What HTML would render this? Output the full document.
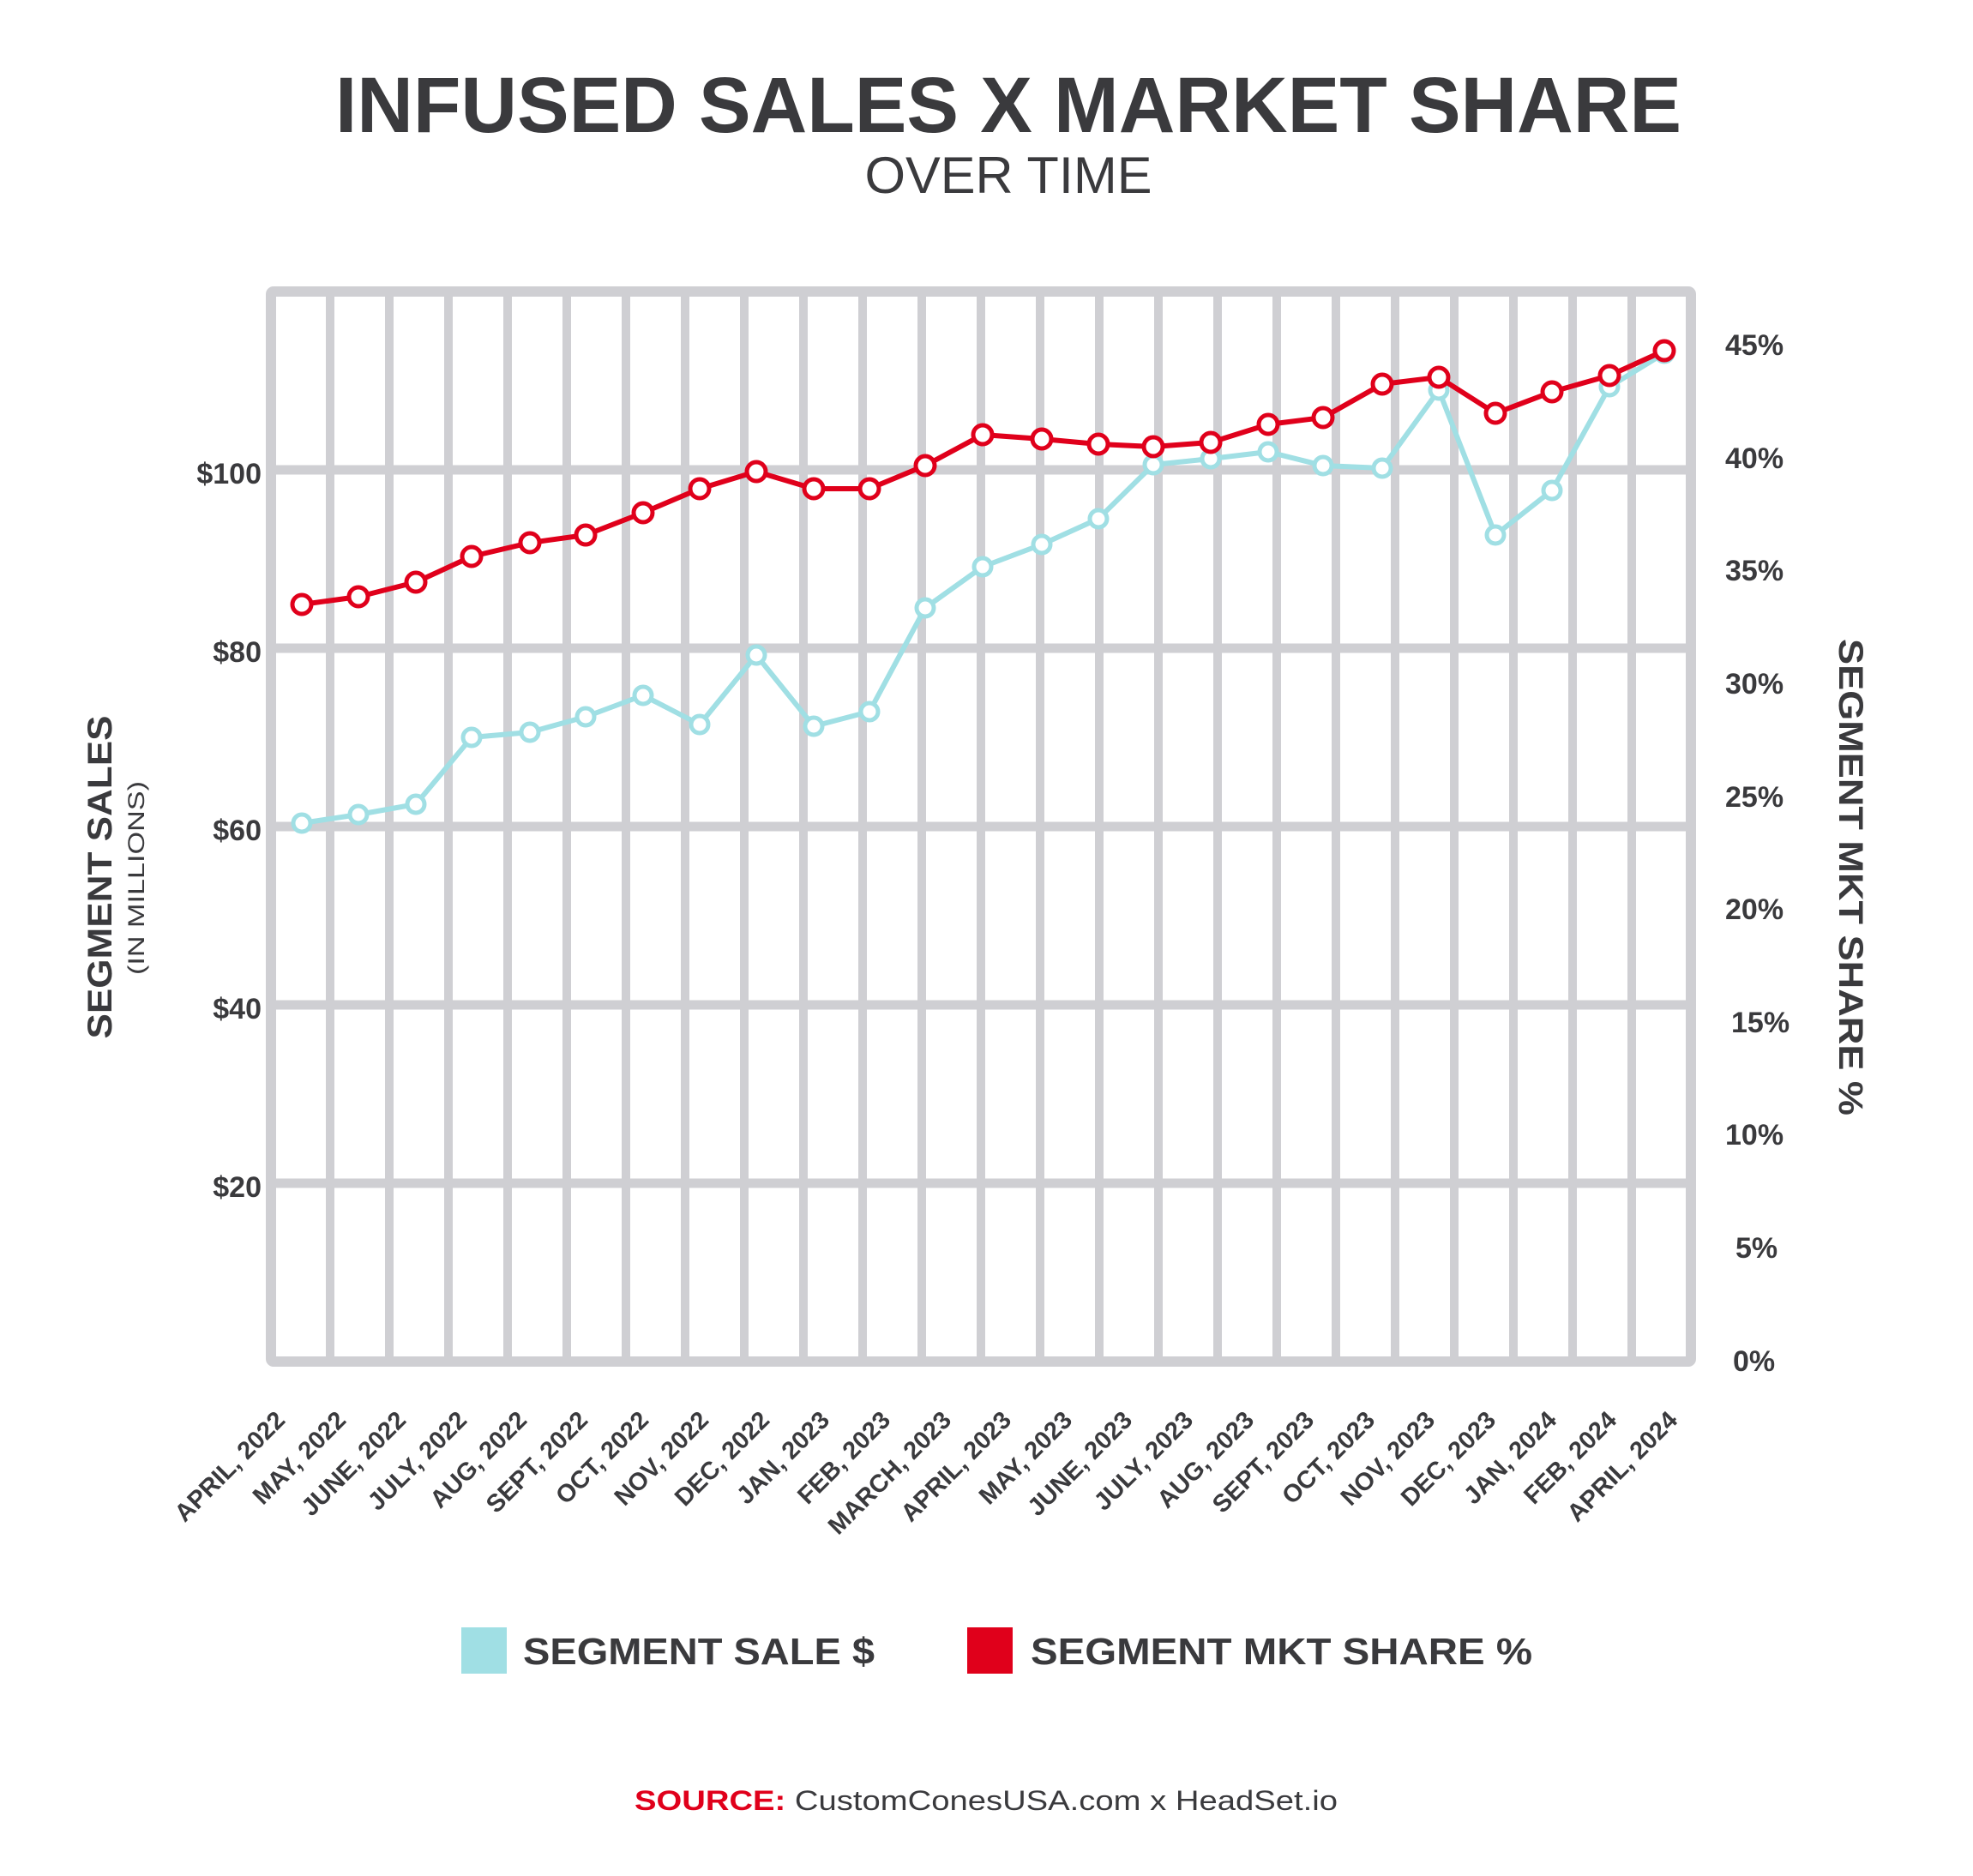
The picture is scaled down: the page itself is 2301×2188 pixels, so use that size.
<!DOCTYPE html>
<html><head><meta charset="utf-8"><style>
html,body{margin:0;padding:0;background:#fff;}
svg{display:block;}
text{font-family:"Liberation Sans",sans-serif;font-weight:bold;fill:#3a3a3d;}
</style></head><body>
<svg width="2301" height="2188" viewBox="0 0 2301 2188" xmlns="http://www.w3.org/2000/svg">
<text x="1176" y="154" font-size="92" text-anchor="middle" textLength="1570" lengthAdjust="spacingAndGlyphs">INFUSED SALES X MARKET SHARE</text>
<text x="1176" y="225" font-size="60" text-anchor="middle" style="font-weight:normal" textLength="335" lengthAdjust="spacingAndGlyphs">OVER TIME</text>

<g stroke="#cfcfd3" fill="none">
<g stroke-width="11">
<line x1="316" y1="548" x2="1972" y2="548"/>
<line x1="316" y1="756" x2="1972" y2="756"/>
<line x1="316" y1="964" x2="1972" y2="964"/>
<line x1="316" y1="1172" x2="1972" y2="1172"/>
<line x1="316" y1="1380" x2="1972" y2="1380"/>
</g>
<rect x="316" y="340" width="1656" height="1248" stroke-width="12" rx="3"/>
</g>
<g stroke="#cfcfd3" stroke-width="10">
<line x1="385" y1="340" x2="385" y2="1588"/><line x1="454" y1="340" x2="454" y2="1588"/><line x1="523" y1="340" x2="523" y2="1588"/><line x1="592" y1="340" x2="592" y2="1588"/><line x1="661" y1="340" x2="661" y2="1588"/><line x1="730" y1="340" x2="730" y2="1588"/><line x1="799" y1="340" x2="799" y2="1588"/><line x1="868" y1="340" x2="868" y2="1588"/><line x1="937" y1="340" x2="937" y2="1588"/><line x1="1006" y1="340" x2="1006" y2="1588"/><line x1="1075" y1="340" x2="1075" y2="1588"/><line x1="1144" y1="340" x2="1144" y2="1588"/><line x1="1213" y1="340" x2="1213" y2="1588"/><line x1="1282" y1="340" x2="1282" y2="1588"/><line x1="1351" y1="340" x2="1351" y2="1588"/><line x1="1420" y1="340" x2="1420" y2="1588"/><line x1="1489" y1="340" x2="1489" y2="1588"/><line x1="1558" y1="340" x2="1558" y2="1588"/><line x1="1627" y1="340" x2="1627" y2="1588"/><line x1="1696" y1="340" x2="1696" y2="1588"/><line x1="1765" y1="340" x2="1765" y2="1588"/><line x1="1834" y1="340" x2="1834" y2="1588"/><line x1="1903" y1="340" x2="1903" y2="1588"/>
</g>

<g font-size="34" text-anchor="end">
<text x="305" y="564">$100</text>
<text x="305" y="772">$80</text>
<text x="305" y="980">$60</text>
<text x="305" y="1188">$40</text>
<text x="305" y="1396">$20</text>
</g>
<g font-size="34" text-anchor="start">
<text x="2012" y="414">45%</text>
<text x="2012" y="546">40%</text>
<text x="2012" y="677">35%</text>
<text x="2012" y="809">30%</text>
<text x="2012" y="941">25%</text>
<text x="2012" y="1072">20%</text>
<text x="2019" y="1204">15%</text>
<text x="2012" y="1335">10%</text>
<text x="2024" y="1467">5%</text>
<text x="2021" y="1599">0%</text>
</g>

<text transform="translate(130,1023) rotate(-90)" font-size="40" text-anchor="middle" textLength="377" lengthAdjust="spacingAndGlyphs">SEGMENT SALES</text>
<text transform="translate(168,1024) rotate(-90)" font-size="27" text-anchor="middle" style="font-weight:normal" textLength="226" lengthAdjust="spacingAndGlyphs">(IN MILLIONS)</text>
<text transform="translate(2145,1023) rotate(90)" font-size="40" text-anchor="middle" textLength="556" lengthAdjust="spacingAndGlyphs">SEGMENT MKT SHARE %</text>

<polyline fill="none" stroke="#a0dfe4" stroke-width="6" stroke-linejoin="round" points="352,960 418,950 485,938 550,860 618,854 683,836 750,811 816,845 882,764 949,847 1014,830 1079,709 1146,661 1215,635 1281,605 1345,542 1412,535 1479,527 1543,543 1612,546 1678,455 1744,624 1810,572 1877,451 1941,412"/>
<g fill="#fff" stroke="#a0dfe4" stroke-width="5">
<circle cx="352" cy="960" r="10"/><circle cx="418" cy="950" r="10"/><circle cx="485" cy="938" r="10"/><circle cx="550" cy="860" r="10"/><circle cx="618" cy="854" r="10"/><circle cx="683" cy="836" r="10"/><circle cx="750" cy="811" r="10"/><circle cx="816" cy="845" r="10"/><circle cx="882" cy="764" r="10"/><circle cx="949" cy="847" r="10"/><circle cx="1014" cy="830" r="10"/><circle cx="1079" cy="709" r="10"/><circle cx="1146" cy="661" r="10"/><circle cx="1215" cy="635" r="10"/><circle cx="1281" cy="605" r="10"/><circle cx="1345" cy="542" r="10"/><circle cx="1412" cy="535" r="10"/><circle cx="1479" cy="527" r="10"/><circle cx="1543" cy="543" r="10"/><circle cx="1612" cy="546" r="10"/><circle cx="1678" cy="455" r="10"/><circle cx="1744" cy="624" r="10"/><circle cx="1810" cy="572" r="10"/><circle cx="1877" cy="451" r="10"/><circle cx="1941" cy="412" r="10"/>
</g>
<polyline fill="none" stroke="#e0001b" stroke-width="6" stroke-linejoin="round" points="352,705 418,696 485,679 550,649 618,633 683,624 750,598 816,570 882,550 949,570 1014,570 1079,543 1146,507 1215,512 1281,518 1345,521 1412,516 1479,495 1543,487 1612,448 1678,440 1744,482 1810,457 1877,438 1941,409"/>
<g fill="#fff" stroke="#e0001b" stroke-width="5">
<circle cx="352" cy="705" r="11"/><circle cx="418" cy="696" r="11"/><circle cx="485" cy="679" r="11"/><circle cx="550" cy="649" r="11"/><circle cx="618" cy="633" r="11"/><circle cx="683" cy="624" r="11"/><circle cx="750" cy="598" r="11"/><circle cx="816" cy="570" r="11"/><circle cx="882" cy="550" r="11"/><circle cx="949" cy="570" r="11"/><circle cx="1014" cy="570" r="11"/><circle cx="1079" cy="543" r="11"/><circle cx="1146" cy="507" r="11"/><circle cx="1215" cy="512" r="11"/><circle cx="1281" cy="518" r="11"/><circle cx="1345" cy="521" r="11"/><circle cx="1412" cy="516" r="11"/><circle cx="1479" cy="495" r="11"/><circle cx="1543" cy="487" r="11"/><circle cx="1612" cy="448" r="11"/><circle cx="1678" cy="440" r="11"/><circle cx="1744" cy="482" r="11"/><circle cx="1810" cy="457" r="11"/><circle cx="1877" cy="438" r="11"/><circle cx="1941" cy="409" r="11"/>
</g>

<g font-size="29" text-anchor="end">
<text transform="translate(334,1658) rotate(-45)">APRIL, 2022</text>
<text transform="translate(405,1658) rotate(-45)">MAY, 2022</text>
<text transform="translate(475,1658) rotate(-45)">JUNE, 2022</text>
<text transform="translate(546,1658) rotate(-45)">JULY, 2022</text>
<text transform="translate(616,1658) rotate(-45)">AUG, 2022</text>
<text transform="translate(687,1658) rotate(-45)">SEPT, 2022</text>
<text transform="translate(758,1658) rotate(-45)">OCT, 2022</text>
<text transform="translate(828,1658) rotate(-45)">NOV, 2022</text>
<text transform="translate(899,1658) rotate(-45)">DEC, 2022</text>
<text transform="translate(969,1658) rotate(-45)">JAN, 2023</text>
<text transform="translate(1040,1658) rotate(-45)">FEB, 2023</text>
<text transform="translate(1111,1658) rotate(-45)">MARCH, 2023</text>
<text transform="translate(1181,1658) rotate(-45)">APRIL, 2023</text>
<text transform="translate(1252,1658) rotate(-45)">MAY, 2023</text>
<text transform="translate(1322,1658) rotate(-45)">JUNE, 2023</text>
<text transform="translate(1393,1658) rotate(-45)">JULY, 2023</text>
<text transform="translate(1464,1658) rotate(-45)">AUG, 2023</text>
<text transform="translate(1534,1658) rotate(-45)">SEPT, 2023</text>
<text transform="translate(1605,1658) rotate(-45)">OCT, 2023</text>
<text transform="translate(1675,1658) rotate(-45)">NOV, 2023</text>
<text transform="translate(1746,1658) rotate(-45)">DEC, 2023</text>
<text transform="translate(1817,1658) rotate(-45)">JAN, 2024</text>
<text transform="translate(1887,1658) rotate(-45)">FEB, 2024</text>
<text transform="translate(1958,1658) rotate(-45)">APRIL, 2024</text>
</g>

<rect x="538" y="1898" width="53" height="54" fill="#a0dfe4"/>
<text x="610" y="1941" font-size="44" textLength="410" lengthAdjust="spacingAndGlyphs">SEGMENT SALE $</text>
<rect x="1128" y="1898" width="53" height="54" fill="#e0001b"/>
<text x="1202" y="1941" font-size="44" textLength="585" lengthAdjust="spacingAndGlyphs">SEGMENT MKT SHARE %</text>

<text x="740" y="2111" font-size="32" textLength="820" lengthAdjust="spacingAndGlyphs"><tspan fill="#e0001b">SOURCE:</tspan><tspan style="font-weight:normal"> CustomConesUSA.com x HeadSet.io</tspan></text>
</svg>
</body></html>
